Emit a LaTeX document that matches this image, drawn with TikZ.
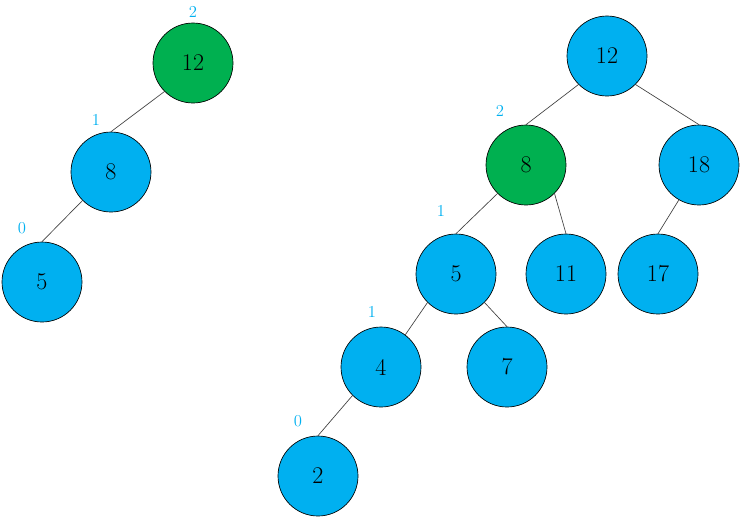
\documentclass[tikz,border=0pt]{standalone}
\usepackage{xcolor}
\usetikzlibrary{positioning}
\definecolor{nodeblue}{HTML}{00B0F0}
\definecolor{nodegreen}{HTML}{00B050}

\begin{document}
\begin{tikzpicture}[x=0.75pt, y=-0.75pt]
  \tikzset{
    tnode/.style={circle, draw=black, line width=0.5pt, fill=nodeblue, minimum size=60pt, inner sep=0pt, font=\fontsize{18}{20}\selectfont},
    unbal/.style={tnode, fill=nodegreen},
    bf/.style={text=nodeblue, font=\fontsize{12.5}{14}\selectfont, inner sep=0pt},
    edge/.style={draw=black!75, line width=0.5pt},
  }
  \useasboundingbox (0,0) rectangle (741,519);
  %% left tree: 12 is out of balance
  \node[unbal] (l12) at (193,63) {12};
  \node[tnode] (l8) at (111,172) {8};
  \node[tnode] (l5) at (42,282) {5};
  \draw[edge] (l12.225) -- (l8.north);
  \draw[edge] (l8.225) -- (l5.north);
  \node[bf] (bfl12) at (193,12) {2};
  \node[bf] (bfl8) at (96,120) {1};
  \node[bf] (bfl5) at (22,228) {0};
  %% right tree: 8 is out of balance
  \node[tnode] (r12) at (607,56) {12};
  \node[unbal] (r8) at (526,165) {8};
  \node[tnode] (r18) at (699,165) {18};
  \node[tnode] (r5) at (456,274) {5};
  \node[tnode] (r11) at (566,274) {11};
  \node[tnode] (r17) at (658,274) {17};
  \node[tnode] (r4) at (381,367) {4};
  \node[tnode] (r7) at (507,367) {7};
  \node[tnode] (r2) at (318,476) {2};
  \draw[edge] (r12.225) -- (r8.north);
  \draw[edge] (r12.315) -- (r18.north);
  \draw[edge] (r8.225) -- (r5.north);
  \draw[edge] (r8.315) -- (r11.north);
  \draw[edge] (r18.240) -- (r17.north);
  \draw[edge] (r5.225) -- (r4.53);
  \draw[edge] (r5.315) -- (r7.north);
  \draw[edge] (r4.225) -- (r2.north);
  \node[bf] (bfr8) at (500,111) {2};
  \node[bf] (bfr5) at (441,211) {1};
  \node[bf] (bfr4) at (372,312) {1};
  \node[bf] (bfr2) at (298,421) {0};
\end{tikzpicture}
\end{document}
